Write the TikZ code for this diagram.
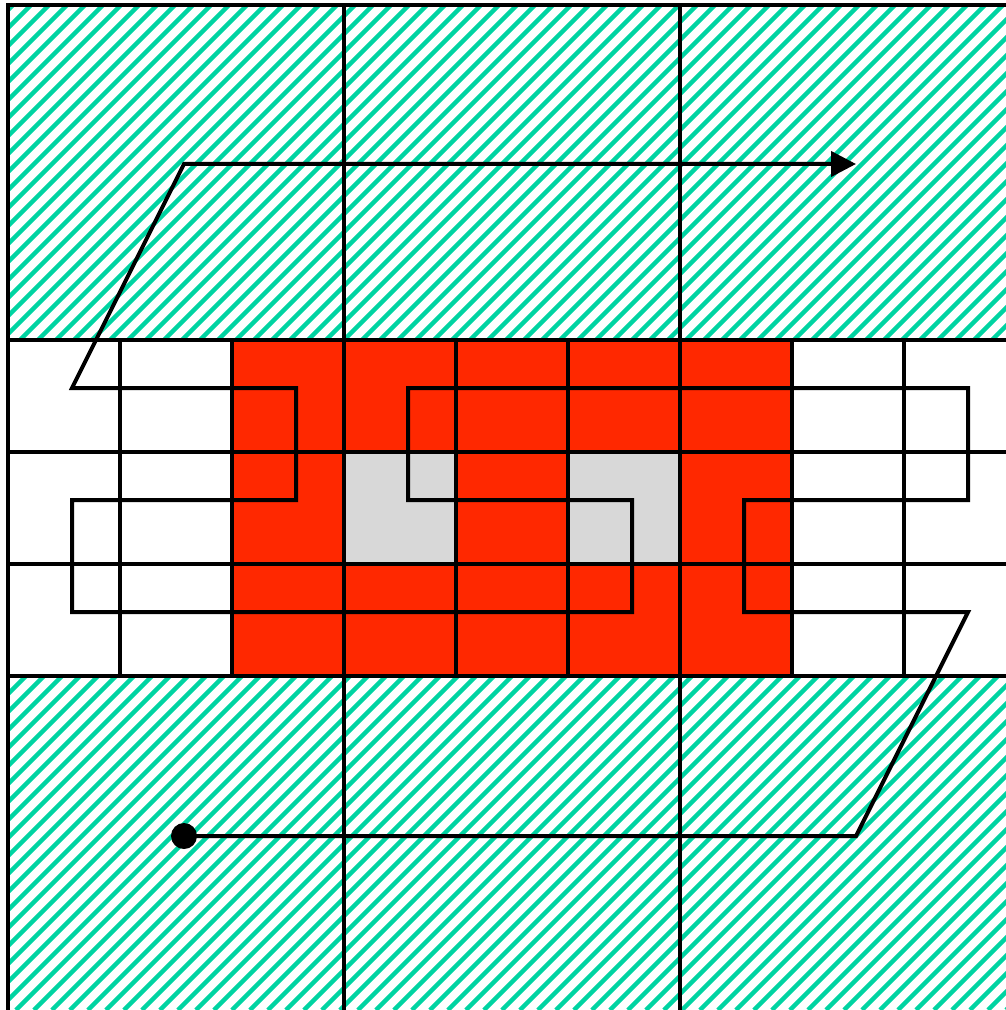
\documentclass[tikz,border=0pt]{standalone}
\usetikzlibrary{arrows.meta}
\definecolor{hatchgreen}{RGB}{0,212,162}
\definecolor{cellred}{RGB}{255,40,0}
\definecolor{cellgray}{RGB}{216,216,216}
\begin{document}
\begin{tikzpicture}[x=0.02cm, y=-0.02cm, >={Triangle[length=5mm,width=5mm]},
	   grid/.style={line width=0.08cm, line cap=rect},
	   stripe/.style={hatchgreen, line width=0.086cm},
	   route/.style={line width=0.08cm}]
	  \useasboundingbox (0,0) rectangle (1006,1010);
	  % hatched bands
	  \begin{scope}
	    \clip (8,5) rectangle (1006,340) (8,676) rectangle (1006,1010);
	    \foreach \c in {0,18,...,2034} \draw[stripe] (\c,0) -- (\c-1010,1010);
	  \end{scope}
	  % red block with two gray cells
	  \fill[cellred] (232,340) rectangle (792,676);
	  \fill[cellgray] (344,452) rectangle (456,564);
	  \fill[cellgray] (568,452) rectangle (680,564);
	  % grid
	  \foreach \y in {5,340,452,564,676} \draw[grid] (8,\y) -- (1006,\y);
	  \foreach \x in {8,344,680} \draw[grid] (\x,5) -- (\x,1010);
	  \foreach \x in {120,232,456,568,792,904} \draw[grid] (\x,340) -- (\x,676);
	  % route
	  \coordinate (start) at (184,836);
	  \coordinate (goal) at (856,164);
	  \fill (start) circle (13);
	  \draw[route,->] (start) -- (856,836) -- (968,612) -- (744,612) -- (744,500) -- (968,500) -- (968,388)
	    -- (408,388) -- (408,500) -- (632,500) -- (632,612) -- (72,612) -- (72,500) -- (296,500)
	    -- (296,388) -- (72,388) -- (184,164) -- (goal);
	\end{tikzpicture}
\end{document}
